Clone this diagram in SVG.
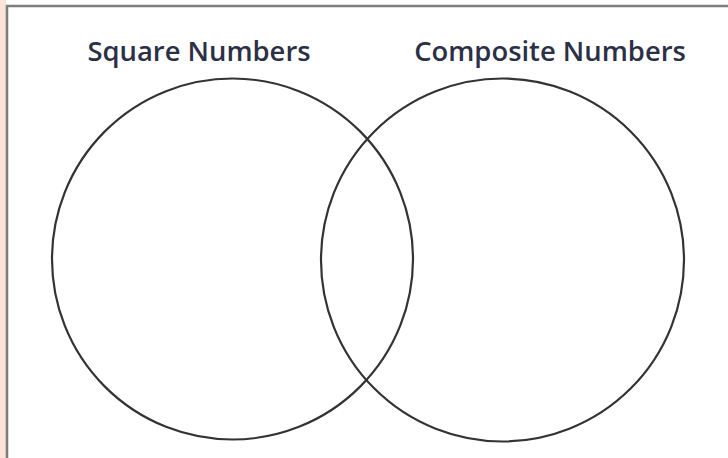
<svg xmlns="http://www.w3.org/2000/svg" width="728" height="458" viewBox="0 0 728 458">
<style>
.ring{fill:none;stroke:#333;stroke-width:2.2}
.lbl{font-family:"Open Sans","Liberation Sans",sans-serif;font-size:27.4px;font-weight:600;fill:#2b3046;text-anchor:middle}
</style>
<rect x="0" y="0" width="728" height="458" fill="#ffffff"/>
<rect x="0" y="0" width="6" height="458" fill="#fbe3d7"/>
<g id="frame"><path d="M7,470 V6 H740" fill="none" stroke="#7d7d7d" stroke-width="2.5"/></g>
<g id="square-numbers">
<circle class="ring" cx="232.5" cy="259" r="180.5"/>
<text class="lbl" x="199" y="61">Square Numbers</text>
</g>
<g id="composite-numbers">
<circle class="ring" cx="502.5" cy="260" r="181.5"/>
<text class="lbl" x="550" y="61">Composite Numbers</text>
</g>
<g id="connectors"></g>
</svg>
